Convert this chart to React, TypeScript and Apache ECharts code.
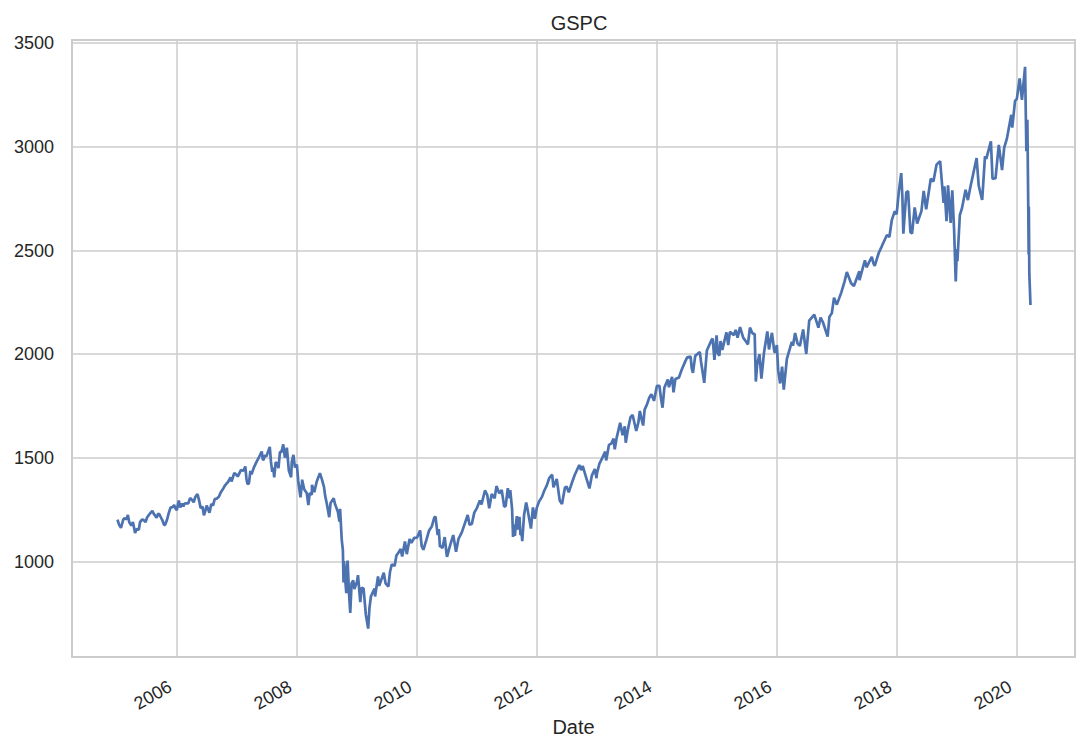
import React, { useEffect, useRef } from "react";
import * as echarts from "echarts";

const dates: string[] = [
  "2005-01-03","2005-01-13","2005-01-24","2005-02-07","2005-02-15","2005-02-28","2005-03-07","2005-03-16","2005-03-28","2005-04-07","2005-04-20","2005-04-29","2005-05-13","2005-05-20","2005-06-01","2005-06-10","2005-06-23","2005-07-01","2005-07-15","2005-07-22","2005-08-03","2005-08-12","2005-08-29","2005-09-08","2005-09-15","2005-09-23","2005-10-05","2005-10-13","2005-10-20","2005-11-01","2005-11-10","2005-11-22","2005-12-05","2005-12-14","2005-12-20","2005-12-30",
  "2006-01-11","2006-01-20","2006-01-31","2006-02-08","2006-02-15","2006-02-28","2006-03-10","2006-03-20","2006-03-27","2006-04-12","2006-04-21","2006-05-05","2006-05-15","2006-05-24","2006-06-05","2006-06-13","2006-06-22","2006-06-30","2006-07-17","2006-07-28","2006-08-08","2006-08-18","2006-08-31","2006-09-12","2006-09-25","2006-10-10","2006-10-20","2006-10-31","2006-11-08","2006-11-22","2006-11-28","2006-12-15","2006-12-29",
  "2007-01-05","2007-01-24","2007-02-09","2007-02-20","2007-02-27","2007-03-05","2007-03-14","2007-03-23","2007-03-30","2007-04-13","2007-04-30","2007-05-14","2007-05-31","2007-06-07","2007-06-12","2007-06-20","2007-06-28","2007-07-19","2007-07-26","2007-08-03","2007-08-09","2007-08-15","2007-08-24","2007-08-31","2007-09-10","2007-09-19","2007-09-28","2007-10-09","2007-10-19","2007-10-31","2007-11-12","2007-11-26","2007-11-30","2007-12-10","2007-12-19","2007-12-31",
  "2008-01-08","2008-01-22","2008-01-31","2008-02-01","2008-02-14","2008-02-29","2008-03-10","2008-03-18","2008-03-31","2008-04-01","2008-04-15","2008-04-30","2008-05-19","2008-05-30","2008-06-13","2008-06-20","2008-06-30","2008-07-15","2008-07-23","2008-08-11","2008-08-20","2008-09-05","2008-09-15","2008-09-19","2008-09-29","2008-10-06","2008-10-10","2008-10-13","2008-10-22","2008-10-27","2008-10-31","2008-11-04","2008-11-12","2008-11-20","2008-11-28","2008-12-08","2008-12-15","2008-12-31",
  "2009-01-06","2009-01-20","2009-01-28","2009-02-09","2009-02-23","2009-03-09","2009-03-17","2009-03-26","2009-04-09","2009-04-17","2009-04-20","2009-05-08","2009-05-15","2009-06-12","2009-06-23","2009-07-10","2009-07-20","2009-07-31","2009-08-17","2009-08-28","2009-09-10","2009-09-23","2009-10-02","2009-10-19","2009-10-30","2009-11-16","2009-11-27","2009-12-14","2009-12-31",
  "2010-01-19","2010-01-29","2010-02-08","2010-02-26","2010-03-15","2010-03-31","2010-04-15","2010-04-23","2010-05-06","2010-05-13","2010-05-20","2010-05-25","2010-06-04","2010-06-18","2010-06-30","2010-07-02","2010-07-16","2010-07-30","2010-08-09","2010-08-26","2010-09-10","2010-09-30","2010-10-15","2010-11-05","2010-11-16","2010-11-30","2010-12-15","2010-12-31",
  "2011-01-18","2011-01-28","2011-02-18","2011-03-04","2011-03-16","2011-03-31","2011-04-18","2011-04-29","2011-05-16","2011-05-31","2011-06-15","2011-06-24","2011-07-07","2011-07-18","2011-07-22","2011-08-02","2011-08-08","2011-08-12","2011-08-19","2011-08-31","2011-09-09","2011-09-16","2011-09-22","2011-09-30","2011-10-03","2011-10-14","2011-10-27","2011-11-04","2011-11-25","2011-12-07","2011-12-19","2011-12-30",
  "2012-01-13","2012-01-31","2012-02-15","2012-02-29","2012-03-15","2012-04-02","2012-04-10","2012-04-30","2012-05-18","2012-06-01","2012-06-19","2012-06-29","2012-07-12","2012-07-31","2012-08-16","2012-09-14","2012-09-25","2012-10-05","2012-10-23","2012-11-15","2012-11-30","2012-12-18","2012-12-28","2012-12-31",
  "2013-01-15","2013-01-31","2013-02-19","2013-02-25","2013-03-14","2013-03-28","2013-04-11","2013-04-18","2013-04-30","2013-05-21","2013-06-05","2013-06-18","2013-06-24","2013-07-08","2013-07-23","2013-08-05","2013-08-27","2013-09-09","2013-09-18","2013-09-30","2013-10-08","2013-10-17","2013-10-31","2013-11-14","2013-11-27","2013-12-13","2013-12-31",
  "2014-01-15","2014-01-24","2014-02-03","2014-02-14","2014-03-07","2014-03-14","2014-04-02","2014-04-11","2014-04-22","2014-05-14","2014-05-30","2014-06-20","2014-07-03","2014-07-24","2014-07-31","2014-08-07","2014-08-21","2014-09-18","2014-09-25","2014-10-15","2014-10-31","2014-11-28","2014-12-05","2014-12-16","2014-12-29",
  "2015-01-06","2015-01-15","2015-01-22","2015-02-02","2015-02-27","2015-03-10","2015-03-20","2015-04-13","2015-04-24","2015-05-06","2015-05-21","2015-06-09","2015-06-29","2015-07-08","2015-07-20","2015-08-05","2015-08-18","2015-08-25","2015-09-02","2015-09-16","2015-09-28","2015-10-13","2015-11-03","2015-11-13","2015-12-01","2015-12-14","2015-12-18","2015-12-31",
  "2016-01-08","2016-01-20","2016-02-01","2016-02-11","2016-03-01","2016-03-31","2016-04-07","2016-04-20","2016-05-05","2016-05-19","2016-06-08","2016-06-27","2016-07-15","2016-08-15","2016-09-09","2016-09-22","2016-10-07","2016-11-04","2016-11-15","2016-11-30","2016-12-13","2016-12-30",
  "2017-01-26","2017-02-15","2017-03-01","2017-03-27","2017-04-13","2017-05-16","2017-05-17","2017-06-19","2017-06-29","2017-07-31","2017-08-10","2017-08-18","2017-09-11","2017-09-29","2017-10-31","2017-11-15","2017-11-30","2017-12-18","2017-12-29",
  "2018-01-12","2018-01-26","2018-02-02","2018-02-08","2018-02-26","2018-03-09","2018-03-23","2018-04-02","2018-04-18","2018-05-03","2018-05-29","2018-06-12","2018-06-27","2018-07-25","2018-08-10","2018-08-29","2018-09-20","2018-10-11","2018-10-16","2018-10-29","2018-11-07","2018-11-23","2018-12-03","2018-12-14","2018-12-24","2018-12-31",
  "2019-01-03","2019-01-18","2019-01-31","2019-02-22","2019-03-08","2019-03-22","2019-04-30","2019-05-13","2019-05-31","2019-06-03","2019-06-20","2019-06-28","2019-07-26","2019-08-05","2019-08-15","2019-08-23","2019-09-12","2019-10-02","2019-10-15","2019-10-31","2019-11-27","2019-12-03","2019-12-20","2019-12-31",
  "2020-01-17","2020-01-31","2020-02-19","2020-02-27","2020-03-04","2020-03-09","2020-03-12","2020-03-13","2020-03-16","2020-03-23"
];

const closes: number[] = [
  1202,1177,1163,1202,1210,1204,1225,1189,1174,1191,1138,1157,1154,1190,1202,1201,1190,1211,1227,1234,1245,1230,1212,1232,1228,1215,1196,1177,1177,1203,1231,1261,1263,1273,1260,1248,
  1294,1261,1280,1266,1280,1281,1281,1305,1303,1286,1311,1325,1294,1258,1265,1223,1245,1270,1236,1278,1271,1302,1304,1313,1336,1354,1368,1378,1385,1406,1386,1427,1418,
  1410,1441,1438,1459,1400,1374,1377,1437,1421,1453,1482,1503,1531,1490,1493,1513,1506,1553,1483,1433,1453,1406,1479,1474,1451,1529,1527,1565,1501,1549,1439,1407,1481,1515,1454,1468,
  1390,1310,1378,1395,1348,1331,1273,1330,1323,1370,1335,1386,1426,1400,1360,1318,1280,1214,1283,1305,1275,1242,1193,1255,1106,1056,899,1003,896,848,969,1005,852,752,896,909,868,903,
  935,805,874,870,743,677,778,833,857,870,832,929,883,946,895,879,951,987,979,1029,1044,1061,1025,1097,1036,1109,1091,1114,1115,
  1150,1074,1057,1104,1150,1169,1211,1217,1128,1157,1071,1074,1065,1118,1031,1023,1065,1102,1128,1047,1110,1141,1176,1225,1178,1181,1236,1258,
  1295,1276,1343,1321,1257,1326,1305,1364,1329,1345,1265,1268,1354,1305,1345,1254,1119,1179,1124,1219,1154,1216,1130,1131,1099,1225,1285,1253,1159,1261,1206,1258,
  1289,1312,1344,1366,1402,1419,1358,1398,1295,1278,1357,1362,1334,1379,1415,1466,1441,1461,1413,1353,1416,1446,1402,1426,
  1472,1498,1530,1488,1563,1569,1593,1541,1598,1669,1609,1652,1573,1640,1696,1707,1630,1671,1726,1682,1656,1733,1757,1790,1807,1775,1848,
  1848,1790,1742,1838,1878,1841,1891,1816,1880,1888,1924,1963,1985,1988,1931,1910,1992,2011,1966,1862,2018,2068,2075,1973,2091,
  2003,1993,2063,2021,2105,2044,2108,2092,2117,2080,2131,2080,2058,2047,2128,2100,2097,1868,1949,2000,1882,2003,2110,2023,2103,2022,2006,2044,
  1922,1859,1940,1829,1978,2060,2041,2102,2051,2040,2119,2001,2162,2191,2128,2177,2153,2085,2180,2199,2272,2239,
  2297,2350,2396,2342,2329,2400,2357,2453,2419,2470,2438,2426,2488,2519,2575,2565,2648,2690,2674,
  2786,2873,2762,2581,2780,2786,2588,2582,2708,2630,2690,2787,2699,2846,2833,2914,2931,2729,2809,2641,2814,2633,2790,2600,2351,2507,
  2448,2671,2704,2793,2743,2801,2946,2812,2752,2744,2954,2942,3026,2845,2848,2847,3009,2888,2996,3038,3154,3093,3221,3231,
  3330,3226,3386,2979,3130,2747,2481,2711,2386,2237
];

const xTickYears: number[] = [2006, 2008, 2010, 2012, 2014, 2016, 2018, 2020];
const yTicks: number[] = [1000, 1500, 2000, 2500, 3000, 3500];

const toTs = (s: string) => {
  const [y, m, d] = s.split("-").map(Number);
  return Date.UTC(y, m - 1, d);
};

const FONT = "Liberation Sans, Arial, sans-serif";

export default function App() {
  const ref = useRef<HTMLDivElement>(null);
  useEffect(() => {
    if (!ref.current) return;
    const chart = echarts.init(ref.current, undefined, { renderer: "svg" });
    const xTickTs = xTickYears.map((y) => Date.UTC(y, 0, 1));
    chart.setOption({
      animation: false,
      backgroundColor: "#ffffff",
      title: {
        text: "GSPC",
        left: 574,
        top: 8,
        textAlign: "center",
        textStyle: { fontFamily: FONT, fontSize: 20, fontWeight: "normal", color: "#262626" },
      },
      grid: {
        left: 72,
        right: 1,
        top: 40,
        bottom: 81,
        outerBoundsMode: "none",
        containLabel: false,
        show: true,
        borderColor: "#cccccc",
        borderWidth: 2,
        backgroundColor: "#ffffff",
      },
      xAxis: {
        type: "value",
        min: Date.UTC(2004, 3, 1),
        max: Date.UTC(2020, 11, 19),
        name: "Date",
        nameLocation: "middle",
        nameGap: 60,
        nameMoveOverlap: false,
        nameTextStyle: { fontFamily: FONT, fontSize: 20, lineHeight: 20, color: "#262626" },
        axisLine: { show: false },
        axisTick: { show: false, customValues: xTickTs },
        splitLine: { show: true, lineStyle: { color: "#cccccc", width: 1.5 } },
        axisLabel: {
          customValues: xTickTs,
          rotate: 30,
          margin: 24,
          padding: [0, 8, 0, 0],
          fontFamily: FONT,
          fontSize: 18,
          color: "#262626",
          formatter: (v: number) => String(new Date(v).getUTCFullYear()),
        },
      },
      yAxis: {
        type: "value",
        min: 540,
        max: 3515,
        axisLine: { show: false },
        axisTick: { show: false, customValues: yTicks },
        splitLine: { show: true, lineStyle: { color: "#cccccc", width: 1.5 } },
        axisLabel: {
          customValues: yTicks,
          margin: 18,
          fontFamily: FONT,
          fontSize: 18,
          color: "#262626",
          formatter: (v: number) => String(v),
        },
      },
      series: [
        {
          type: "line",
          data: dates.map((d, i) => [toTs(d), closes[i]]),
          showSymbol: false,
          lineStyle: { color: "#4c72b0", width: 2.7 },
          itemStyle: { color: "#4c72b0" },
        },
      ],
    });
    return () => chart.dispose();
  }, []);
  return (
    <div
      ref={ref}
      style={{ position: "fixed", left: 0, top: 0, width: 1076, height: 738, background: "#fff" }}
    />
  );
}
